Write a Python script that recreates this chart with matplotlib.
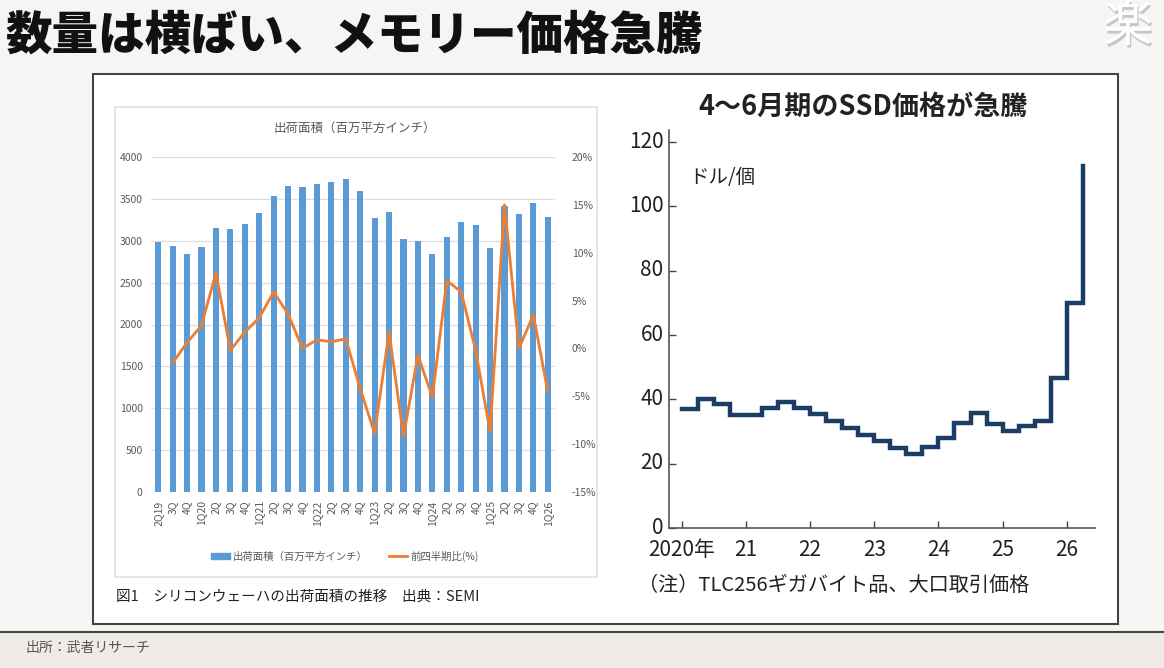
import numpy as np
import matplotlib
matplotlib.use("Agg")
from matplotlib import pyplot as plt
from matplotlib import patches
from matplotlib.lines import Line2D
import matplotlib.patheffects as pe
import matplotlib.transforms as mtransforms

plt.rcParams['font.family'] = ['Noto Sans CJK JP', 'DejaVu Sans']

# left chart: silicon wafer shipments (SEMI)
quarters = ['2Q19', '3Q', '4Q', '1Q20', '2Q', '3Q', '4Q', '1Q21', '2Q', '3Q', '4Q',
            '1Q22', '2Q', '3Q', '4Q', '1Q23', '2Q', '3Q', '4Q', '1Q24', '2Q', '3Q',
            '4Q', '1Q25', '2Q', '3Q', '4Q', '1Q26']
area = [2980, 2935, 2840, 2925, 3150, 3140, 3195, 3335, 3530, 3655, 3645, 3680,
        3705, 3740, 3600, 3270, 3340, 3015, 3000, 2840, 3040, 3225, 3190, 2910,
        3410, 3320, 3445, 3285]
qoq = [np.nan, -1.5, 0.6, 2.4, 7.9, -0.2, 1.7, 3.2, 5.9, 3.6, 0.0, 0.9, 0.7, 1.0,
       -4.2, -8.9, 1.7, -9.2, -0.7, -5.1, 7.1, 5.9, -0.2, -8.7, 15.0, 0.0, 3.5, -4.5]

# right chart: SSD price, TLC 256GB, quarterly from 1Q2020
ssd_start = 2020.0
ssd_price = [37, 40.2, 38.4, 35, 35, 37.4, 39.3, 37.4, 35.3, 33.2, 31.1, 29, 27,
             24.9, 23.1, 25.2, 28, 32.7, 35.8, 32.2, 30.1, 31.7, 33.4, 46.6, 70, 112.5]
year_ticks = [2020, 2021, 2022, 2023, 2024, 2025, 2026]
year_labels = ['2020年', '21', '22', '23', '24', '25', '26']

W, H = 1164, 668
fig = plt.figure(figsize=(W / 100, H / 100), dpi=100)
fig.patch.set_facecolor('#f5f5f3')


def box(x0, y0, x1, y1):
    # pixel box -> figure fraction [l, b, w, h]
    return [x0 / W, 1 - y1 / H, (x1 - x0) / W, (y1 - y0) / H]


def fx(x):
    return x / W


def fy(y):
    return 1 - y / H


# bottom strip + line
fig.add_artist(patches.Rectangle((0, 0), 1, fy(632), transform=fig.transFigure,
                                 facecolor='#efebe6', edgecolor='none', zorder=-10))
fig.add_artist(Line2D([0, 1], [fy(632), fy(632)], transform=fig.transFigure,
                      color='#444444', lw=1.5, zorder=-9))
# white panel
l, b, w, h = box(93, 74, 1118, 624)
fig.add_artist(patches.Rectangle((l, b), w, h, transform=fig.transFigure,
                                 facecolor='white', edgecolor='#444444', lw=1.5, zorder=-8))
# inner frame of the left chart
l, b, w, h = box(115, 107, 597, 577)
fig.add_artist(patches.Rectangle((l, b), w, h, transform=fig.transFigure,
                                 facecolor='white', edgecolor='#e2e2e2', lw=1.2, zorder=-7))

fig.text(fx(5), fy(36), '数量は横ばい、メモリー価格急騰', fontsize=33.5, fontweight='black',
         color='#111111', va='center', ha='left')
fig.text(fx(1128), fy(27), '楽', fontsize=36, color='white', ha='center', va='center',
         path_effects=[pe.withSimplePatchShadow(offset=(1, -2), shadow_rgbFace='#999999', alpha=0.5)])
fig.text(fx(25), fy(648), '出所：武者リサーチ', fontsize=10, color='#555555', va='center')

# ---- left chart
gray = '#595959'
ax = fig.add_axes(box(151, 157, 555, 492))
x = np.arange(len(quarters))
ax.bar(x, area, width=0.42, color='#5b9bd5', zorder=2)
ax.set_xlim(-0.5, len(quarters) - 0.5)
ax.set_ylim(0, 4000)
ax.set_yticks(range(0, 4001, 500))
ax.set_xticks(x)
ax.set_xticklabels(quarters, rotation=90, fontsize=7.5, color=gray)
ax.tick_params(axis='both', length=0, labelsize=7.5, labelcolor=gray, pad=6)
ax.grid(axis='y', color='#dddddd', lw=0.9, zorder=0)
for s in ax.spines.values():
    s.set_visible(False)
ax.set_facecolor('none')

ax2 = ax.twinx()
ax2.plot(x, qoq, color='#ed7d31', lw=2, zorder=3)
ax2.set_ylim(-15, 20)
ax2.set_yticks(range(-15, 21, 5))
ax2.set_yticklabels([f'{v}%' for v in range(-15, 21, 5)])
ax2.tick_params(axis='y', length=0, labelsize=7.5, labelcolor=gray, pad=12)
for s in ax2.spines.values():
    s.set_visible(False)

fig.text(fx(355), fy(128), '出荷面積（百万平方インチ）', fontsize=9, color=gray,
         ha='center', va='center')
fig.legend([patches.Patch(color='#5b9bd5'), Line2D([], [], color='#ed7d31', lw=2)],
           ['出荷面積（百万平方インチ）', '前四半期比(%)'],
           loc='center', bbox_to_anchor=(fx(345), fy(556)), ncol=2, frameon=False,
           fontsize=7.5, labelcolor=gray, handlelength=1.8, handleheight=0.5,
           columnspacing=2.0, handletextpad=0.3)
fig.text(fx(116), fy(597), '図1　シリコンウェーハの出荷面積の推移　出典：SEMI', fontsize=10.5,
         color='#222222', va='center', ha='left')

# ---- right chart
rx = [ssd_start + 0.25 * i for i in range(len(ssd_price))]
axr = fig.add_axes(box(669, 130, 1095, 528))
axr.plot(rx, ssd_price, drawstyle='steps-post', color='#1c3d63', lw=3.2,
         solid_joinstyle='miter')
axr.set_xlim(2019.8, 2026.44)
axr.set_ylim(0, 123.7)
axr.set_yticks(range(0, 121, 20))
axr.set_xticks(year_ticks)
axr.set_xticklabels(year_labels)
axr.tick_params(axis='both', direction='in', length=5, width=1, color='#444444',
                labelsize=15, labelcolor='#222222')
axr.tick_params(axis='y', pad=4)
axr.tick_params(axis='x', pad=8)
# y labels sit a little high in the original
shift = mtransforms.ScaledTranslation(0, 2 / 72, fig.dpi_scale_trans)
for lab in axr.get_yticklabels():
    lab.set_transform(lab.get_transform() + shift)
for s in ['top', 'right']:
    axr.spines[s].set_visible(False)
for s in ['left', 'bottom']:
    axr.spines[s].set_color('#555555')
    axr.spines[s].set_linewidth(1.2)
axr.set_facecolor('none')

fig.text(fx(863), fy(107), '4〜6月期のSSD価格が急騰', fontsize=19.5, fontweight='bold',
         color='#222222', ha='center', va='center')
fig.text(fx(689), fy(177), 'ドル/個', fontsize=14, color='#222222', va='center')
fig.text(fx(638), fy(585), '（注）TLC256ギガバイト品、大口取引価格', fontsize=14.5,
         color='#222222', va='center', ha='left')

fig.savefig('out.png', dpi=100, facecolor=fig.get_facecolor())
